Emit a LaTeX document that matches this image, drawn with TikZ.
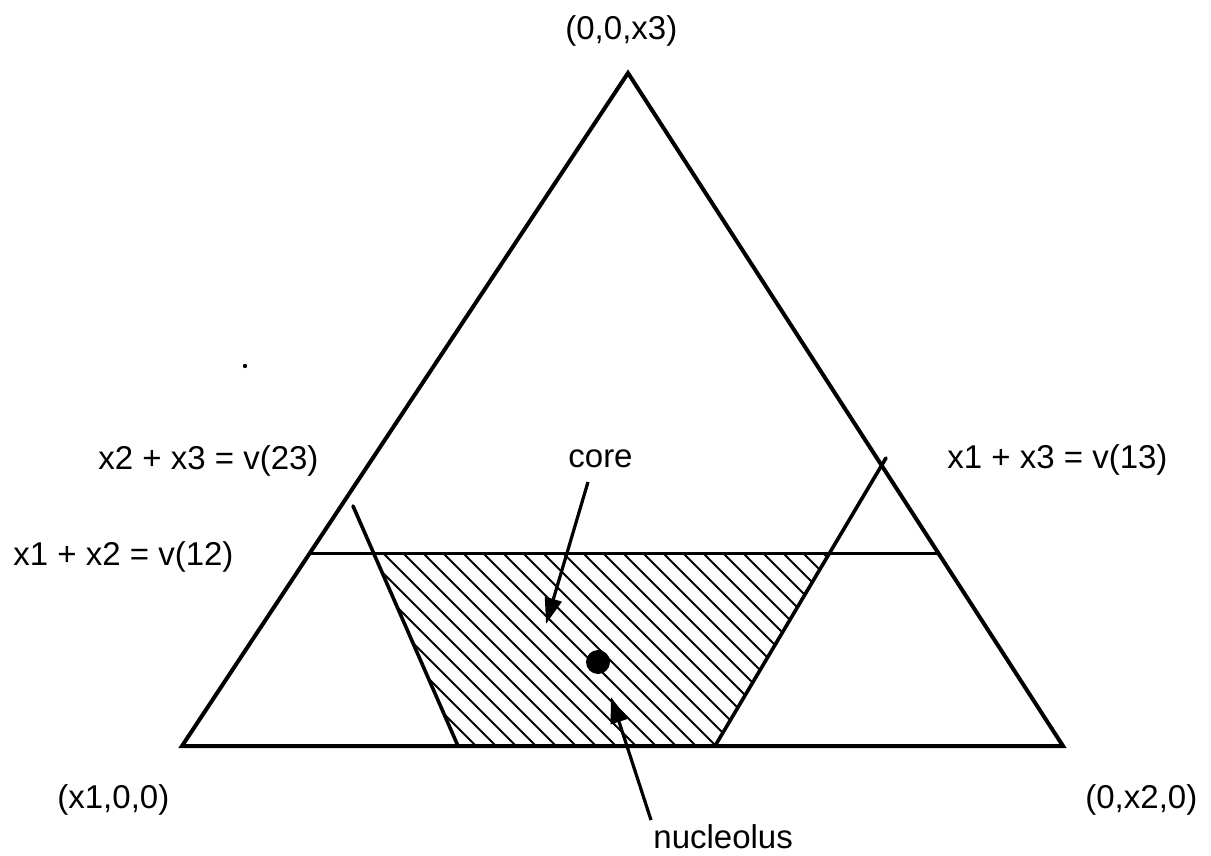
\documentclass[tikz,border=0pt]{standalone}
\usepackage{fontspec}
\setmainfont{Liberation Sans}
\usetikzlibrary{arrows.meta}
\begin{document}
\begin{tikzpicture}[x=0.5pt,y=-0.5pt,
  edgeline/.style={line width=2pt},
  cutline/.style={line width=1.8pt, line cap=round},
  levelline/.style={line width=1.5pt},
  hatchline/.style={line width=0.95pt},
  pointer/.style={line width=1.6pt, -{Triangle[length=13pt,width=8.5pt]}},
  lbl/.style={anchor=base west, inner sep=0pt, font=\fontsize{16.5}{19}\selectfont}]
\useasboundingbox (0,0) rectangle (1211,856);
% vertices
\coordinate (A) at (628,73);
\coordinate (B) at (182,746);
\coordinate (C) at (1063,746);
% level line ends
\coordinate (L1) at (309,553);
\coordinate (L2) at (939,553);
% cut lines
\coordinate (P1) at (353,506);
\coordinate (P2) at (458,746);
\coordinate (Q1) at (886,458);
\coordinate (Q2) at (715,746);
% core corners
\coordinate (K1) at (375,553);
\coordinate (K2) at (828,553);
% hatching
\begin{scope}
  \clip (K1) -- (K2) -- (Q2) -- (P2) -- cycle;
  \foreach \k in {0,...,30}
    \draw[hatchline] (250+20*\k,540) -- ++(230,230);
\end{scope}
% triangle
\draw[edgeline] (A) -- (B) -- (C) -- cycle;
\draw[levelline] (L1) -- (L2);
\draw[cutline] (P1) -- (P2);
\draw[cutline] (Q1) -- (Q2);
% nucleolus point
\fill (598,662) circle (12);
\fill (245,366) circle (2.2);
% labels
\node[lbl] (top) at (565,40) {(0,0,x3)};
\node[lbl] (v23) at (98,469) {x2 + x3 = v(23)};
\node[lbl] (v12) at (13,565) {x1 + x2 = v(12)};
\node[lbl] (v13) at (947,468) {x1 + x3 = v(13)};
\node[lbl] (left) at (57,808) {(x1,0,0)};
\node[lbl] (right) at (1085,808) {(0,x2,0)};
\node[lbl] (core) at (568,467) {core};
\node[lbl] (nuc) at (653,848) {nucleolus};
% arrows
\coordinate (coretail) at (588,482);
\coordinate (coretip) at (546,624);
\coordinate (nuctail) at (651,820);
\coordinate (nuctip) at (611,697);
\draw[pointer] (coretail) -- (coretip);
\draw[pointer] (nuctail) -- (nuctip);
\end{tikzpicture}
\end{document}
